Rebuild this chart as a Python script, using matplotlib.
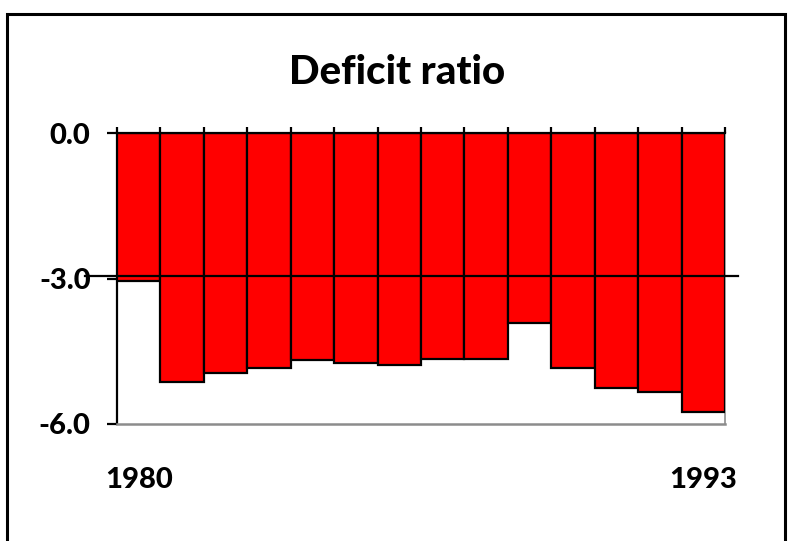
import matplotlib
matplotlib.use("Agg")
import matplotlib.pyplot as plt
from matplotlib.patches import Rectangle

# ----------------------------
# Data
# ----------------------------
years = list(range(1980, 1994))
deficit = [-3.05, -5.14, -4.94, -4.85, -4.68, -4.74, -4.79,
           -4.65, -4.65, -3.91, -4.85, -5.25, -5.35, -5.76]
y_ticks = [0.0, -3.0, -6.0]
y_labels = ["0.0", "-3.0", "-6.0"]
x_labels = ["1980", "1993"]
ref_level = -2.95

plt.rcParams["font.family"] = ["Lato", "DejaVu Sans"]

fig = plt.figure(figsize=(7.88, 5.41), dpi=100)
ax = fig.add_axes([117 / 788, 1 - 424 / 541, 608 / 788, 291 / 541])

pos = list(range(len(years)))
ax.bar(pos, deficit, width=1.0, color="#ff0000", edgecolor="black",
       linewidth=1.6, zorder=3)

# reference line at -3, running past the plot on both sides
ax.axhline(ref_level, xmin=-0.053, xmax=1.021, color="black", lw=1.6,
           zorder=4, clip_on=False)

ax.set_xlim(-0.5, len(years) - 0.5)
ax.set_ylim(-6, 0)

# y axis
ax.set_yticks(y_ticks)
ax.set_yticklabels(y_labels, fontsize=21, fontweight="black")
ax.tick_params(axis="y", direction="out", length=7, width=1.6, pad=12)

# x labels for first and last year only
ax.set_xticks([pos[0], pos[-1]])
ax.set_xticklabels(x_labels, fontsize=21, fontweight="black")
ax.tick_params(axis="x", bottom=True, length=0, pad=31)

# little ticks above the zero line at each bar boundary
sec = ax.secondary_xaxis("top")
sec.set_xticks([p - 0.5 for p in pos] + [pos[-1] + 0.5])
sec.set_xticklabels([])
sec.tick_params(direction="out", length=4, width=1.6)
sec.spines["top"].set_visible(False)

for side in ["left", "top"]:
    ax.spines[side].set_color("black")
    ax.spines[side].set_linewidth(1.6)
ax.spines["bottom"].set_color("#8c8c8c")
ax.spines["bottom"].set_linewidth(1.8)
ax.spines["right"].set_color("#8c8c8c")
ax.spines["right"].set_linewidth(1.2)
ax.spines["top"].set_zorder(5)

fig.text(397 / 788, 1 - 72 / 541, "Deficit ratio", ha="center", va="center",
         fontsize=29, fontweight="black")

# frame around the whole chart (bottom edge falls off the image)
fig.patches.append(Rectangle((6.5 / 788, -0.05), (785 - 6.5) / 788, 1.05 - 14 / 541,
                             transform=fig.transFigure, fill=False,
                             edgecolor="black", linewidth=2.2))

fig.savefig("out.png", dpi=100)
